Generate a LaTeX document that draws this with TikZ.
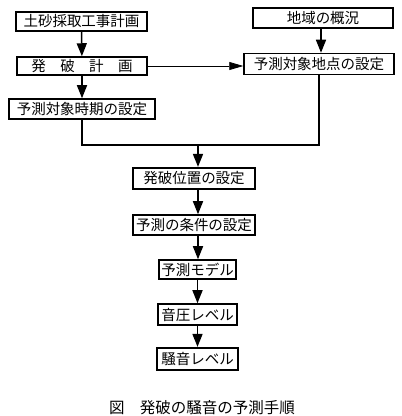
\documentclass[tikz,border=0pt]{standalone}
\usepackage{fontspec}
\setmainfont{Noto Sans CJK JP}
\usetikzlibrary{arrows.meta}

\begin{document}
\begin{tikzpicture}[x=1pt,y=1pt,
  box/.style={draw,line width=1.5pt,inner sep=0pt,minimum height=20pt,
    font=\fontsize{14.5}{15}\selectfont},
  arr/.style={line width=1.5pt,-{Triangle[length=13pt,width=10pt]}}]
  \useasboundingbox (0,0) rectangle (402,416);
  % left column
  \node[box,minimum width=131pt,minimum height=19pt] (koji) at (81.5,394.5) {土砂採取工事計画};
  \node[box,minimum width=130pt,minimum height=18pt] (happa) at (82,350) {発\quad 破\quad 計\quad 画};
  \node[box,minimum width=146pt] (jiki) at (82,307) {予測対象時期の設定};
  % right column
  \node[box,minimum width=140pt] (gaikyo) at (323,398) {地域の概況};
  \node[box,minimum width=150pt,minimum height=21pt] (chiten) at (319,352) {予測対象地点の設定};
  % center column
  \node[box,line width=2.2pt,minimum width=122pt,minimum height=21pt] (ichi) at (194,237.5) {発破位置の設定};
  \node[box,minimum width=122pt] (joken) at (194,191) {予測の条件の設定};
  \node[box,minimum width=77pt,minimum height=19pt] (model) at (197.5,146.5) {予測モデル};
  \node[box,minimum width=79pt,minimum height=21pt] (onatsu) at (197.5,101.5) {音圧レベル};
  \node[box,line width=2.2pt,minimum width=81pt,minimum height=22pt] (soon) at (197.5,57) {騒音レベル};
  \node[font=\fontsize{15.5}{16}\selectfont] (caption) at (202,8) {図\quad 発破の騒音の予測手順};

  \coordinate (join) at (198,271);
  \draw[arr] (koji) -- (happa);
  \draw[arr] (happa) -- (jiki);
  \draw[arr] (gaikyo.south -| 321,0) -- (chiten.north -| 321,0);
  \draw[line width=0.8pt,-{Triangle[length=14pt,width=8pt]}] (happa.east) -- (happa.east -| chiten.west);
  \draw[line width=1.5pt] (jiki.south) |- (join) -| (chiten.south);
  \draw[arr] (join) -- (join |- ichi.north);
  \draw[arr] (ichi.south -| join) -- (join |- joken.north);
  \draw[arr] (joken.south -| join) -- (join |- model.north);
  \draw[arr] (model) -- (onatsu);
  \draw[arr] (onatsu) -- (soon);
\end{tikzpicture}
\end{document}
